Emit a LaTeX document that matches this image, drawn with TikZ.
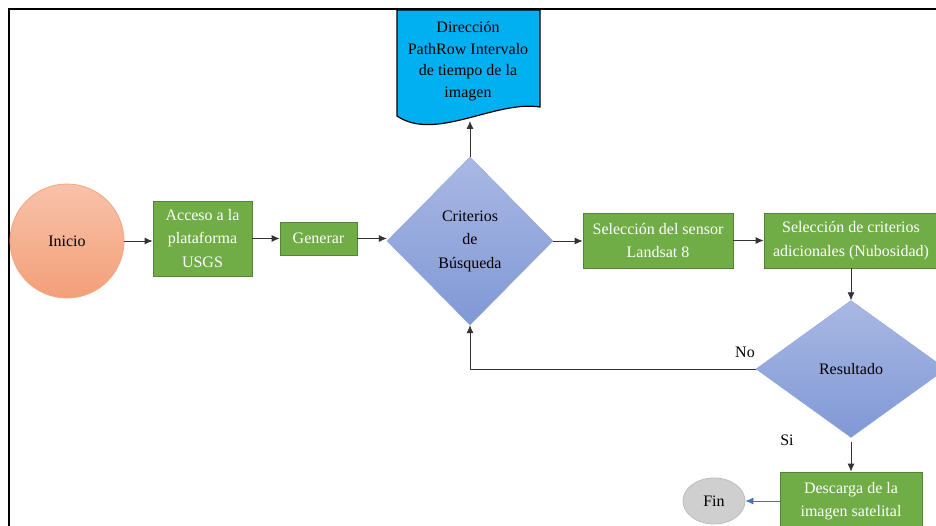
\documentclass[tikz,border=0pt]{standalone}
\usepackage{fontspec}
\setmainfont{Liberation Serif}
\usetikzlibrary{shapes.geometric,arrows.meta}

\definecolor{boxgreen}{HTML}{70AD47}
\definecolor{boxedge}{HTML}{548235}
\definecolor{diamtop}{HTML}{A9B8E3}
\definecolor{diambot}{HTML}{8098D6}
\definecolor{diamedge}{HTML}{8FA6DC}
\definecolor{docblue}{HTML}{00B0F0}
\definecolor{starttop}{HTML}{F8C2AA}
\definecolor{startbot}{HTML}{F39F78}
\definecolor{startedge}{HTML}{F4A57E}
\definecolor{endfill}{HTML}{CFCFCF}
\definecolor{endedge}{HTML}{BDBDBD}
\definecolor{arrowblue}{HTML}{4472C4}

\begin{document}
\begin{tikzpicture}[x=1pt,y=-1pt,
  txt/.style={font=\fontsize{16}{23.5}\selectfont, align=center},
  procbox/.style={txt, rectangle, draw=boxedge, fill=boxgreen, text=white, line width=0.8pt, inner sep=0pt},
  decision/.style={txt, diamond, draw=diamedge, top color=diamtop, bottom color=diambot, inner sep=0pt},
  flow/.style={-{Latex[length=8pt,width=7pt]}, line width=0.8pt, draw=black!80}]
\useasboundingbox (0,0) rectangle (936,526);
\clip (0,0) rectangle (936,526);
\draw [line width=2pt] (9,526) -- (9,9) -- (940,9);

\draw [fill=docblue, line width=1.2pt] (397,10) -- (540,10) -- (540,107) .. controls (495,100) and (435,142) .. (397,116) -- cycle;
\node [txt, font=\fontsize{16}{21.5}\selectfont] (doc) at (468,61) {Dirección\\PathRow Intervalo\\de tiempo de la\\imagen};
\coordinate (docbot) at (470,121);

\node [txt, circle, minimum size=114pt, top color=starttop, bottom color=startbot, draw=startedge, line width=0.8pt] (inicio) at (67,241) {Inicio};
\node [procbox, minimum width=99pt, minimum height=75pt] (acceso) at (202.5,238.5) {Acceso a la\\plataforma\\USGS};
\node [procbox, minimum width=77pt, minimum height=33pt] (generar) at (318.5,238.5) {Generar};
\node [decision, minimum width=166pt, minimum height=168pt] (criterios) at (470,241) {Criterios\\de\\Búsqueda};
\node [procbox, minimum width=150pt, minimum height=55pt] (sensor) at (658,240.5) {Selección del sensor\\Landsat 8};
\node [procbox, minimum width=174pt, minimum height=55pt] (adicional) at (851,240.5) {Selección de criterios\\adicionales (Nubosidad)};
\node [decision, minimum width=190pt, minimum height=137pt] (resultado) at (851,369) {Resultado};
\node [procbox, minimum width=142pt, minimum height=58pt] (descarga) at (851,501) {Descarga de la\\imagen satelital};
\node [txt, ellipse, minimum width=62pt, minimum height=46pt, fill=endfill, draw=endedge, line width=0.8pt] (fin) at (714,501) {Fin};

\node [txt] (no) at (745,352) {No};
\node [txt] (si) at (787,440) {Si};

\draw [flow] (inicio.east) -- (inicio.east -| acceso.west);
\draw [flow] (acceso.east |- generar) -- (generar.west);
\draw [flow] (generar.east) -- (generar.east -| criterios.west);
\draw [flow] (criterios.east) -- (criterios.east -| sensor.west);
\draw [flow] (sensor) -- (adicional);
\draw [flow] (criterios.north) -- (docbot);
\draw [flow] (adicional) -- (resultado);
\draw [flow] (resultado.west) -| (criterios.south);
\draw [flow] (resultado.south) ++(0,4) -- (descarga.north);
\draw [flow, draw=arrowblue, -{Latex[length=8pt,width=7pt,fill=arrowblue]}] (descarga) -- (fin);
\end{tikzpicture}
\end{document}
